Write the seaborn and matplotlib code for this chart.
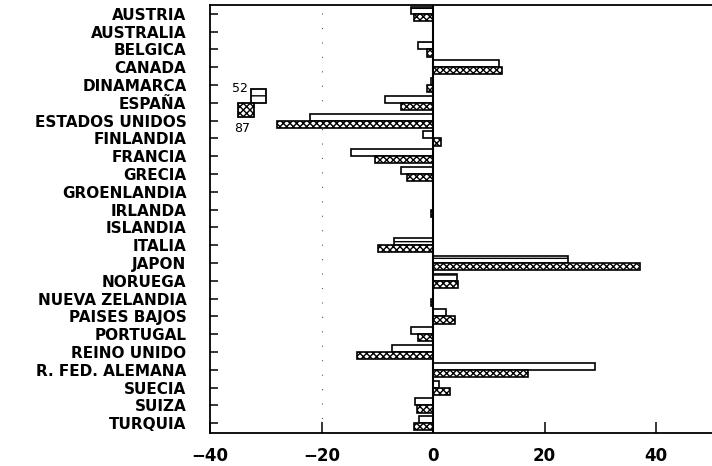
import numpy as np
import pandas as pd
import matplotlib
matplotlib.use("Agg")
import matplotlib.pyplot as plt
from matplotlib.patches import Rectangle
import seaborn as sns

# ------------------------------------------------------------------
# datos (variacion, 1952 y 1987)
# ------------------------------------------------------------------
paises = ["AUSTRIA", "AUSTRALIA", "BELGICA", "CANADA", "DINAMARCA", "ESPAÑA",
          "ESTADOS UNIDOS", "FINLANDIA", "FRANCIA", "GRECIA", "GROENLANDIA",
          "IRLANDA", "ISLANDIA", "ITALIA", "JAPON", "NORUEGA", "NUEVA ZELANDIA",
          "PAISES BAJOS", "PORTUGAL", "REINO UNIDO", "R. FED. ALEMANA",
          "SUECIA", "SUIZA", "TURQUIA"]
valores_52 = [-4.0, 0.0, -2.7, 11.8, -0.3, -8.6, -22.1, -1.8, -14.7, -5.7, 0.0,
              0.0, 0.0, -7.0, 24.1, 4.3, 0.0, 2.3, -4.0, -7.3, 29.0,
              1.1, -3.3, -2.6]
valores_87 = [-3.4, 0.0, -1.1, 12.4, -1.1, -5.8, -27.9, 1.4, -10.4, -4.7, 0.0,
              -0.4, 0.0, -9.8, 37.1, 4.5, -0.3, 4.0, -2.7, -13.6, 17.0,
              3.0, -2.8, -3.4]
anios = ["52", "87"]

df = pd.DataFrame({
    "pais": paises * 2,
    "valor": valores_52 + valores_87,
    "anio": [anios[0]] * len(paises) + [anios[1]] * len(paises),
})

# ------------------------------------------------------------------
# figura
# ------------------------------------------------------------------
sns.set_style("white")
plt.rcParams["font.family"] = ["DejaVu Sans"]
plt.rcParams["text.color"] = "black"
plt.rcParams["xtick.color"] = "black"
plt.rcParams["ytick.color"] = "black"
plt.rcParams["hatch.color"] = "black"
plt.rcParams["hatch.linewidth"] = 1.0

fig = plt.figure(figsize=(7.12, 4.66), dpi=100)
ax = fig.add_axes([210 / 712, 1 - 433 / 466, 1 - 210 / 712, 428 / 466])

sns.barplot(data=df, y="pais", x="valor", hue="anio", orient="h",
            palette=["white", "white"], edgecolor="black", linewidth=1.2,
            width=0.8, legend=False, ax=ax)

hatches = {"52": "-", "87": "xxxxx"}
for cont, anio in zip(ax.containers, anios):
    for bar in cont:
        bar.set_hatch(hatches[anio])

ax.axvline(0, color="black", lw=1.5, zorder=5)
ax.axvline(-20, color="0.35", lw=0.8, ls=(0, (1, 12)), zorder=0)

ax.set_xlim(-40, 50)
ax.set_ylim(len(paises) - 0.45, -0.5)
ax.set_xticks([-40, -20, 0, 20, 40])
ax.set_xlabel("")
ax.set_ylabel("")

for s in ["left", "bottom", "top"]:
    ax.spines[s].set_visible(True)
    ax.spines[s].set_color("black")
    ax.spines[s].set_linewidth(1.3)
ax.spines["right"].set_visible(False)

ax.tick_params(axis="y", direction="in", length=6, width=1.1, left=True,
               pad=17, labelsize=11, colors="black")
ax.tick_params(axis="x", direction="in", length=8, width=1.1, bottom=True,
               pad=10, labelsize=12, colors="black")
for lab in ax.get_yticklabels() + ax.get_xticklabels():
    lab.set_fontweight("bold")

# leyenda dibujada a mano como en el original
r52 = Rectangle((251, 466 - 103), 15, 14, transform=None, facecolor="white",
                edgecolor="black", lw=1.3, hatch="--", zorder=6)
r87 = Rectangle((238, 466 - 117), 16, 14, transform=None, facecolor="white",
                edgecolor="black", lw=1.3, hatch="xxxxx", zorder=6)
fig.patches.extend([r52, r87])
fig.text(232 / 712, 1 - 88 / 466, "52", fontsize=9, va="center", ha="left")
fig.text(234 / 712, 1 - 128 / 466, "87", fontsize=9, va="center", ha="left")

fig.savefig("out.png", dpi=100)
